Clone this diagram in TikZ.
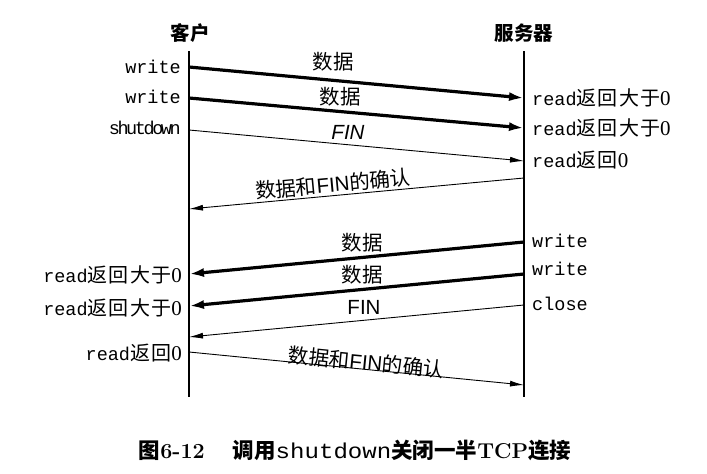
\documentclass[tikz,border=0pt]{standalone}
\usepackage{fontspec}
\setmonofont{Liberation Mono}
\newfontfamily\monotight{Liberation Mono}[LetterSpace=-13]
\newfontfamily\cjk{Noto Sans CJK SC}
\newfontfamily\cjkwide{Noto Sans CJK SC}[LetterSpace=6]
\newfontfamily\lsans{Liberation Sans}
\newfontfamily\lserif{Liberation Serif}
\usetikzlibrary{arrows.meta}

% a call name followed by a Chinese return note, e.g. read返回0
\newcommand{\rdret}[1]{{\ttfamily read}{\fontsize{20}{22}\selectfont\cjkwide #1}{\fontsize{21}{22}\selectfont\lserif 0}}

\begin{document}
\begin{tikzpicture}[x=1pt,y=-1pt,
  life/.style={line width=1.1pt},
  bigmsg/.style={line width=3.2pt, -{Latex[length=15pt,width=9pt]}},
  smallmsg/.style={line width=0.9pt, -{Latex[length=14pt,width=6pt]}},
  call/.style={inner sep=0pt, font=\fontsize{18.5}{20}\selectfont},
  head/.style={inner sep=0pt, font=\fontsize{19.5}{22}\selectfont\cjk\bfseries},
  msglabel/.style={inner sep=0pt, font=\fontsize{20.5}{22}\selectfont},
]
\useasboundingbox (0,0) rectangle (707,474);

% column headings and lifelines
\node[head] (client) at (190,33) {客户};
\node[head] (server) at (524,33) {服务器};
\coordinate (ctop) at (189,51);
\coordinate (cbot) at (189,397);
\coordinate (stop) at (524,51);
\coordinate (sbot) at (524,397);
\draw[life] (ctop) -- (cbot);
\draw[life] (stop) -- (sbot);

% calls on the client side
\node[call,anchor=east] (w1) at (181,67) {\ttfamily write};
\node[call,anchor=east] (w2) at (181,97) {\ttfamily write};
\node[call,anchor=east] (sd) at (181,128) {\monotight shutdown};
\node[call,anchor=east] (cr1) at (182,275) {\rdret{返回大于}};
\node[call,anchor=east] (cr2) at (182,308) {\rdret{返回大于}};
\node[call,anchor=east] (cr3) at (182,353) {\rdret{返回}};

% calls on the server side
\node[call,anchor=west] (sr1) at (532,98) {\rdret{返回大于}};
\node[call,anchor=west] (sr2) at (532,128) {\rdret{返回大于}};
\node[call,anchor=west] (sr3) at (532,160) {\rdret{返回}};
\node[call,anchor=west] (sw1) at (532,241) {\ttfamily write};
\node[call,anchor=west] (sw2) at (532,269) {\ttfamily write};
\node[call,anchor=west] (sc) at (532,304) {\ttfamily close};

% message end points on the lifelines
\coordinate (a1) at (189,67);  \coordinate (b1) at (524,98);
\coordinate (a2) at (189,98);  \coordinate (b2) at (524,128);
\coordinate (a3) at (189,130); \coordinate (b3) at (524,161);
\coordinate (b4) at (524,178); \coordinate (a4) at (189,209);
\coordinate (b5) at (524,242); \coordinate (a5) at (189,274);
\coordinate (b6) at (524,274); \coordinate (a6) at (189,306);
\coordinate (b7) at (524,305); \coordinate (a7) at (189,337);
\coordinate (a8) at (189,352); \coordinate (b8) at (524,385);

% client half-close
\draw[bigmsg] (a1) -- (b1);
\draw[bigmsg] (a2) -- (b2);
\draw[smallmsg] (a3) -- (b3);
\draw[smallmsg] (b4) -- (a4);
\node[msglabel] (l1) at (333,62) {\cjk 数据};
\node[msglabel] (l2) at (340,97) {\cjk 数据};
\node[msglabel] (l3) at (348,132) {\lsans\itshape FIN};
\node[msglabel,rotate=5.3] (l4) at (333,184) {{\cjk 数据和}\lsans FIN{\cjk 的确认}};

% server close
\draw[bigmsg] (b5) -- (a5);
\draw[bigmsg] (b6) -- (a6);
\draw[smallmsg] (b7) -- (a7);
\draw[smallmsg] (a8) -- (b8);
\node[msglabel] (l5) at (362,243) {\cjk 数据};
\node[msglabel] (l6) at (362,275) {\cjk 数据};
\node[msglabel] (l7) at (364,307) {\lsans FIN};
\node[msglabel,rotate=-5.6] (l8) at (366,362) {{\cjk 数据和}\lsans FIN{\cjk 的确认}};

% figure caption
\node[inner sep=0pt, font=\fontsize{21.5}{24}\selectfont] (cap) at (355,450)
  {{\cjk\bfseries 图}\textbf{6-12}\hspace{28pt}{\cjk\bfseries 调用}\scalebox{1.12}[1]{\ttfamily shutdown}{\cjk\bfseries 关闭一半}\textbf{TCP}{\cjk\bfseries 连接}};
\end{tikzpicture}
\end{document}
